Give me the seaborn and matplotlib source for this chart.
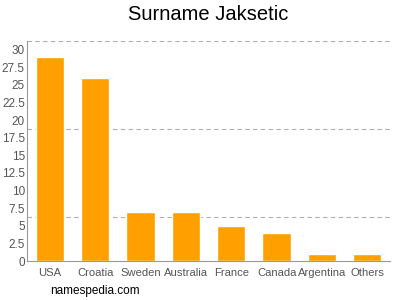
import matplotlib
matplotlib.use("Agg")
import matplotlib.pyplot as plt
import seaborn as sns
import numpy as np
import pandas as pd
from matplotlib.ticker import MultipleLocator, FuncFormatter

countries = ["USA", "Croatia", "Sweden", "Australia", "France", "Canada", "Argentina", "Others"]
counts = [29, 26, 7, 7, 5, 4, 1, 1]

sns.set_style("white")
plt.rcParams['font.family'] = ['Liberation Sans', 'DejaVu Sans']

df = pd.DataFrame({"country": countries, "count": counts})

fig = plt.figure(figsize=(4, 3), dpi=100)
ax = fig.add_axes([0.0675, 0.13, 0.9075, 0.734])
sns.barplot(data=df, x="country", y="count", color="#FFA000", saturation=1, width=0.62, ax=ax)

ax.set_xlim(-0.5, 7.5)
ax.set_ylim(0, 31.25)
ax.yaxis.set_major_locator(MultipleLocator(2.5))
ax.yaxis.set_major_formatter(FuncFormatter(lambda v, p: f"{v:g}"))
ax.yaxis.set_minor_locator(MultipleLocator(6.25))
ax.grid(False)
ax.yaxis.grid(True, which="minor", linestyle=(0, (4, 3)), color="#B0B0B0", linewidth=0.8)
ax.set_axisbelow(True)

for s in ["top", "right"]:
    ax.spines[s].set_visible(False)
for s in ["left", "bottom"]:
    ax.spines[s].set_color("#999999")
    ax.spines[s].set_linewidth(0.8)

ax.tick_params(axis="y", which="major", length=0, labelsize=8.5, labelcolor="#555555", pad=1.5)
ax.tick_params(axis="y", which="minor", length=0)
ax.tick_params(axis="x", length=3, color="#999999", labelsize=8.1, labelcolor="#555555", pad=2)
ax.set_xlabel("")
ax.set_ylabel("")

fig.text(0.52, 0.95, "Surname Jaksetic", ha="center", va="center", fontsize=14.5, color="#000000")
fig.text(0.125, 0.03, "namespedia.com", ha="left", va="center", fontsize=8.5, color="#000000")

fig.savefig("out.png", dpi=100)
